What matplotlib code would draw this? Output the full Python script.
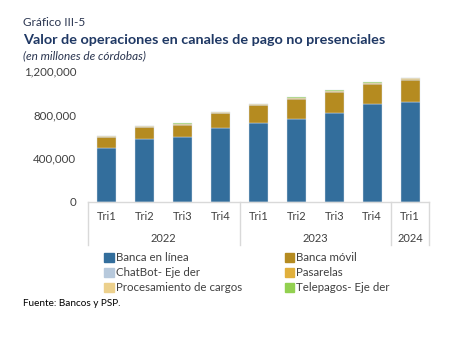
import matplotlib.pyplot as plt
import matplotlib.transforms as mtransforms
from matplotlib.patches import Patch
import numpy as np

# Data (millions of cordobas)
quarters = ["Tri1", "Tri2", "Tri3", "Tri4", "Tri1", "Tri2", "Tri3", "Tri4", "Tri1"]
years = ["2022", "2023", "2024"]
year_counts = [4, 4, 1]

banca_linea = [492000, 578000, 599000, 681000, 727000, 758000, 813000, 901000, 914000]
banca_movil = [101000, 107000, 110000, 132000, 160000, 184000, 198000, 178000, 207000]
chatbot = [300, 300, 300, 300, 300, 300, 300, 300, 300]
pasarelas = [4000, 4000, 5000, 4000, 5000, 6000, 5000, 7000, 7000]
procesamiento = [3000, 3000, 3000, 3000, 3000, 4000, 4000, 6000, 4000]
telepagos = [5000, 5000, 6000, 5000, 5000, 6000, 6000, 5000, 6000]

series = [
    ("Banca en línea", banca_linea, "#336e9c"),
    ("Banca móvil", banca_movil, "#b58b20"),
    ("ChatBot- Eje der", chatbot, "#b7c9dc"),
    ("Pasarelas", pasarelas, "#e1b03c"),
    ("Procesamiento de cargos", procesamiento, "#ecd08c"),
    ("Telepagos- Eje der", telepagos, "#92d050"),
]

plt.rcParams['font.family'] = ['Lato', 'DejaVu Sans']

fig = plt.figure(figsize=(4.57, 3.46), dpi=100)
ax = fig.add_axes([88 / 457, 1 - 202 / 346, 341 / 457, 131 / 346])

x = np.arange(len(quarters))
bottom = np.zeros(len(quarters))
for name, vals, color in series:
    ax.bar(x, vals, 0.5, bottom=bottom, color=color, edgecolor="#dde4ec",
           linewidth=0.3, label=name)
    bottom += np.array(vals)

ax.set_xlim(-0.5, len(quarters) - 0.5)
ax.set_ylim(0, 1200000)
ax.set_yticks([0, 400000, 800000, 1200000])
ax.set_yticklabels([f"{v:,}" for v in [0, 400000, 800000, 1200000]],
                   fontsize=8.3, color="#404040")
ax.tick_params(axis="y", length=0, pad=8.5)
ax.tick_params(axis="x", length=0, labelbottom=False)
for s in ["top", "right", "left"]:
    ax.spines[s].set_visible(False)
ax.spines["bottom"].set_color("#d9d9d9")
ax.spines["bottom"].set_linewidth(1.0)

# grouped category axis
trans = mtransforms.blended_transform_factory(ax.transData, ax.transAxes)
for i, q in enumerate(quarters):
    ax.text(i, -0.107, q, transform=trans, ha="center", va="center",
            fontsize=8, color="#404040")
start = -0.5
ax.plot([start, start], [0, -0.33], transform=trans, color="#d9d9d9",
        lw=1.0, clip_on=False)
for yr, n in zip(years, year_counts):
    end = start + n
    ax.text((start + end) / 2, -0.275, yr, transform=trans, ha="center",
            va="center", fontsize=8, color="#404040")
    ax.plot([end, end], [0, -0.33], transform=trans, color="#d9d9d9",
            lw=1.0, clip_on=False)
    start = end

# titles
fig.text(23 / 457, 1 - 22 / 346, "Gráfico III-5", fontsize=8.5, color="#2a3550",
         va="center")
fig.text(23 / 457, 1 - 40 / 346, "Valor de operaciones en canales de pago no presenciales",
         fontsize=10.4, fontweight="bold", color="#1f3864", va="center")
fig.text(23 / 457, 1 - 56 / 346, "(en millones de córdobas)", fontsize=8.5,
         style="italic", color="#2a3550", va="center")

# legend (row-major order as in the reference)
handles = [Patch(color=c, label=n) for n, _, c in series]
order = [0, 2, 4, 1, 3, 5]
fig.legend([handles[i] for i in order], [series[i][0] for i in order],
           ncol=2, loc="upper left", bbox_to_anchor=(94 / 457, 1 - 242 / 346),
           frameon=False, fontsize=8.3, handlelength=0.8, handleheight=0.8,
           handletextpad=0.2, columnspacing=3.7, labelspacing=0.35,
           labelcolor="#404040")

fig.text(23 / 457, 1 - 304 / 346, "Fuente: Bancos y PSP.", fontsize=7.2,
         color="#000000", va="center")

fig.savefig("out.png", dpi=100)
